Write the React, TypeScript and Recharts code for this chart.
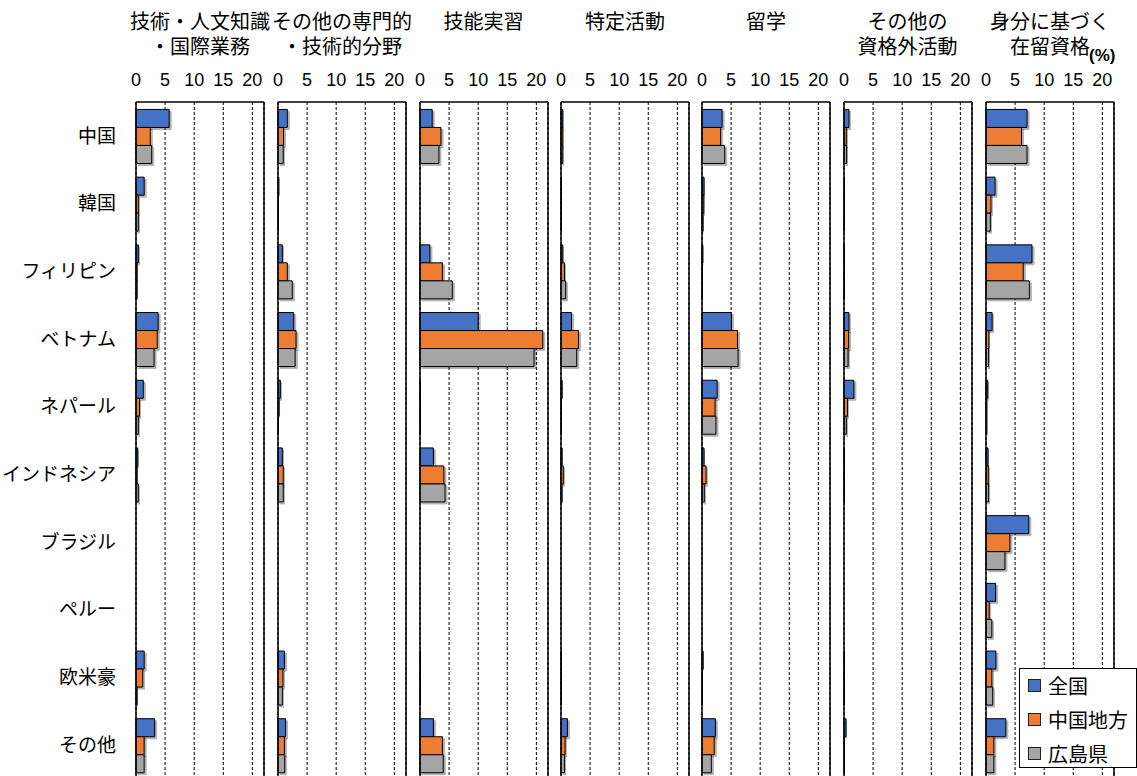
import React from "react";
import { BarChart, Bar, XAxis, YAxis, CartesianGrid, ReferenceLine } from "recharts";

const categories = ["中国", "韓国", "フィリピン", "ベトナム", "ネパール", "インドネシア", "ブラジル", "ペルー", "欧米豪", "その他"];
const seriesNames = ["全国", "中国地方", "広島県"];
const seriesColors = ["#4472C4", "#ED7D31", "#A5A5A5"];
const panelTitles = [
  ["技術・人文知識", "・国際業務"],
  ["その他の専門的", "・技術的分野"],
  ["技能実習"],
  ["特定活動"],
  ["留学"],
  ["その他の", "資格外活動"],
  ["身分に基づく", "在留資格"],
];
const xTicks = [0, 5, 10, 15, 20];

// 技術・人文知識・国際業務
const p1National = [5.7, 1.4, 0.4, 3.8, 1.25, 0.3, 0, 0, 1.4, 3.2];
const p1Chugoku = [2.45, 0.4, 0.2, 3.65, 0.6, 0.2, 0, 0, 1.15, 1.4];
const p1Hiroshima = [2.7, 0.4, 0.2, 3.1, 0.4, 0.4, 0, 0, 0.2, 1.4];
// その他の専門的・技術的分野
const p2National = [1.6, 0.15, 0.75, 2.7, 0.4, 0.75, 0, 0, 1.1, 1.3];
const p2Chugoku = [0.95, 0.1, 1.6, 3.1, 0.2, 0.9, 0, 0, 0.85, 1.1];
const p2Hiroshima = [0.9, 0.1, 2.45, 2.95, 0.1, 0.9, 0, 0, 0.75, 1.15];
// 技能実習
const p3National = [2.1, 0, 1.7, 10.0, 0.05, 2.3, 0, 0, 0.05, 2.3];
const p3Chugoku = [3.6, 0, 3.85, 21.1, 0.05, 4.1, 0, 0, 0.05, 3.85];
const p3Hiroshima = [3.25, 0, 5.55, 19.6, 0.05, 4.3, 0, 0, 0.05, 4.0];
// 特定活動
const p4National = [0.3, 0.05, 0.3, 1.8, 0.2, 0.2, 0, 0, 0.05, 1.1];
const p4Chugoku = [0.3, 0.05, 0.6, 3.0, 0.1, 0.4, 0, 0, 0.05, 0.7];
const p4Hiroshima = [0.3, 0.05, 0.8, 2.7, 0.1, 0.2, 0, 0, 0.05, 0.6];
// 留学
const p5National = [3.45, 0.35, 0.15, 5.05, 2.6, 0.35, 0, 0, 0.2, 2.3];
const p5Chugoku = [3.2, 0.3, 0.1, 6.1, 2.25, 0.7, 0, 0, 0.1, 2.1];
const p5Hiroshima = [3.9, 0.2, 0.1, 6.2, 2.4, 0.4, 0, 0, 0.1, 1.6];
// その他の資格外活動
const p6National = [0.85, 0.1, 0.05, 0.85, 1.7, 0.05, 0, 0, 0.05, 0.35];
const p6Chugoku = [0.4, 0.05, 0.05, 0.8, 0.6, 0.05, 0, 0, 0.05, 0.1];
const p6Hiroshima = [0.45, 0.05, 0.05, 0.7, 0.4, 0.05, 0, 0, 0.05, 0.1];
// 身分に基づく在留資格
const p7National = [7.05, 1.55, 7.9, 1.05, 0.3, 0.35, 7.35, 1.65, 1.7, 3.4];
const p7Chugoku = [6.1, 0.85, 6.4, 0.5, 0.15, 0.4, 4.1, 0.55, 1.0, 1.35];
const p7Hiroshima = [7.05, 0.75, 7.45, 0.45, 0.15, 0.45, 3.25, 1.0, 1.15, 1.35];

const panelValues = [
  [p1National, p1Chugoku, p1Hiroshima],
  [p2National, p2Chugoku, p2Hiroshima],
  [p3National, p3Chugoku, p3Hiroshima],
  [p4National, p4Chugoku, p4Hiroshima],
  [p5National, p5Chugoku, p5Hiroshima],
  [p6National, p6Chugoku, p6Hiroshima],
  [p7National, p7Chugoku, p7Hiroshima],
];

const FONT = "'Liberation Sans', Arial, 'Noto Sans CJK JP', sans-serif";
const PLOT_TOP = 102;
const PLOT_BOTTOM = 779;
const AXIS_H = 30;
const PANEL_W = 128;
const panelLefts = [136, 278, 419.5, 561, 702, 843.5, 986];

const Panel = ({ index }: { index: number }) => {
  const first = index === 0;
  const axisW = first ? 136 : 10;
  const left = panelLefts[index] - axisW;
  const vals = panelValues[index];
  const data = categories.map((name, i) => {
    const row: any = { name };
    seriesNames.forEach((s, k) => (row[s] = vals[k][i]));
    return row;
  });
  const shadowId = `shadow${index}`;

  return (
    <div style={{ position: "absolute", left, top: 0 }}>
      <BarChart
        width={axisW + PANEL_W + 2}
        height={PLOT_BOTTOM}
        data={data}
        layout="vertical"
        margin={{ top: PLOT_TOP - AXIS_H, right: 2, bottom: 0, left: 0 }}
        barCategoryGap="11%"
        barGap={0}
      >
        <defs>
          <filter id={shadowId} x="-20%" y="-20%" width="150%" height="150%">
            <feDropShadow dx="2" dy="2" stdDeviation="0.6" floodColor="#000" floodOpacity="0.3" />
          </filter>
        </defs>
        <CartesianGrid horizontal={false} stroke="#000" strokeDasharray="3 2" />
        <XAxis
          type="number"
          orientation="top"
          domain={[0, 22]}
          ticks={xTicks}
          interval={0}
          height={AXIS_H}
          tickSize={0}
          tickMargin={16}
          axisLine={{ stroke: "#000", strokeWidth: 1.5 }}
          tick={{ fontSize: 18, fill: "#000", fontFamily: FONT }}
        />
        <YAxis
          type="category"
          dataKey="name"
          width={axisW}
          tickSize={0}
          tickMargin={20}
          interval={0}
          axisLine={{ stroke: "#000", strokeWidth: 1.5 }}
          tick={first ? { fontSize: 19, fill: "#000", fontFamily: FONT } : false}
        />
        <ReferenceLine x={22} stroke="#000" strokeWidth={1.5} />
        {seriesNames.map((s, k) => (
          <Bar
            key={s}
            dataKey={s}
            fill={seriesColors[k]}
            stroke="#000"
            strokeWidth={1}
            filter={`url(#${shadowId})`}
            isAnimationActive={false}
          />
        ))}
      </BarChart>
    </div>
  );
};

const App = () => {
  return (
    <div
      style={{
        position: "absolute",
        left: 0,
        top: 0,
        width: 1137,
        height: 776,
        overflow: "hidden",
        background: "#fff",
        fontFamily: FONT,
        color: "#000",
      }}
    >
      {panelTitles.map((lines, i) => (
        <div
          key={i}
          style={{
            position: "absolute",
            left: panelLefts[i] + PANEL_W / 2 - 100,
            width: 200,
            top: 10,
            textAlign: "center",
            fontSize: 20,
            lineHeight: "25px",
            whiteSpace: "nowrap",
          }}
        >
          {lines.map((l) => (
            <div key={l}>{l}</div>
          ))}
        </div>
      ))}
      <div style={{ position: "absolute", left: 1089, top: 46, fontSize: 17, fontWeight: "bold", lineHeight: "20px" }}>
        (%)
      </div>
      {panelTitles.map((_, i) => (
        <Panel key={i} index={i} />
      ))}
      <div
        style={{
          position: "absolute",
          left: 1019,
          top: 668,
          width: 116,
          height: 98,
          border: "1px solid #000",
          background: "#fff",
        }}
      >
        {seriesNames.map((s, k) => (
          <div key={s} style={{ position: "absolute", left: 8, top: 3 + k * 34, height: 26, display: "flex", alignItems: "center" }}>
            <span
              style={{
                display: "inline-block",
                width: 11,
                height: 11,
                background: seriesColors[k],
                border: "1px solid #222",
                marginRight: 7,
              }}
            />
            <span style={{ fontSize: 20 }}>{s}</span>
          </div>
        ))}
      </div>
    </div>
  );
};

export default App;
